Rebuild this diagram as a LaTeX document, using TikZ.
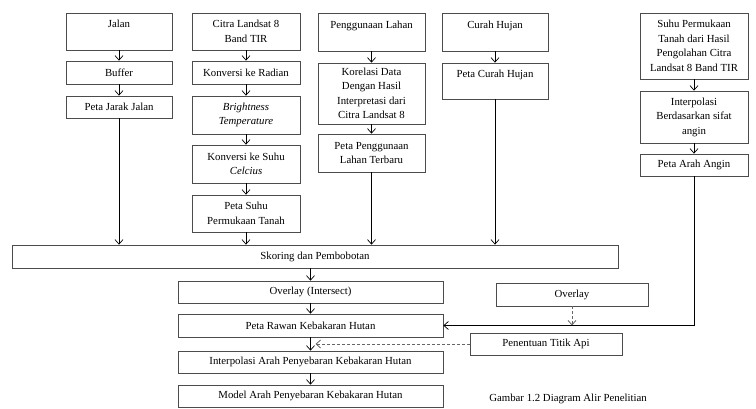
\documentclass[tikz,border=0pt]{standalone}
\usepackage{fontspec}
\setmainfont{Liberation Serif}
\usetikzlibrary{arrows.meta,calc}
\begin{document}
\begin{tikzpicture}[x=1pt,y=-1pt,
  box/.style={draw=black!70, line width=0.7pt, rectangle, inner sep=1pt, align=center,
    font=\fontsize{10.8}{14.5}\selectfont},
  w1/.style={minimum width=106pt},
  w2/.style={minimum width=108pt},
  w3/.style={minimum width=107pt},
  wb/.style={minimum width=265pt},
  wr/.style={minimum width=152pt},
  arr/.style={draw=black, line width=0.7pt, -{Straight Barb[length=4.5pt,width=8pt]}},
  darr/.style={draw=black!60, line width=0.8pt, dash pattern=on 3pt off 2pt, -{Straight Barb[length=4.5pt,width=8pt]}},
  captext/.style={font=\fontsize{10.8}{13}\selectfont}
]
\useasboundingbox (0,0) rectangle (756,409);
% column 1
\node[box,w1,minimum height=37pt] (jalan) at (119,31.5) {Jalan\\\mbox{}};
\node[box,w1,minimum height=23pt] (buffer) at (119,72.5) {Buffer};
\node[box,w1,minimum height=22pt] (jarak) at (119,107) {Peta Jarak Jalan};
% column 2
\node[box,w2,minimum height=37pt] (citra) at (246,31.5) {Citra Landsat 8\\Band TIR};
\node[box,w2,minimum height=23pt] (radian) at (246,72.5) {Konversi ke Radian};
\node[box,w2,minimum height=38pt] (bright) at (246,115) {\textit{Brightness}\\\textit{Temperature}};
\node[box,w2,minimum height=38pt] (celcius) at (246,164) {Konversi ke Suhu\\\textit{Celcius}};
\node[box,w2,minimum height=37pt] (suhu) at (246,213.5) {Peta Suhu\\Permukaan Tanah};
% column 3
\node[box,w3,minimum height=38pt] (guna) at (371.5,32) {Penggunaan Lahan\\\mbox{}};
\node[box,w3,minimum height=61pt] (korelasi) at (371.5,93.5) {Korelasi Data\\Dengan Hasil\\Interpretasi dari\\Citra Landsat 8};
\node[box,w3,minimum height=38pt] (gunabaru) at (371.5,153) {Peta Penggunaan\\Lahan Terbaru};
% column 4
\node[box,w1,minimum height=38pt] (curah) at (495,32) {Curah Hujan\\\mbox{}};
\node[box,w1,minimum height=36pt] (pcurah) at (495,81) {Peta Curah Hujan\\\mbox{}};
% column 5
\node[box,w2,minimum height=66pt] (lst) at (694,46) {Suhu Permukaan\\Tanah dari Hasil\\Pengolahan Citra\\Landsat 8 Band TIR};
\node[box,w2,minimum height=52pt] (interp) at (694,117) {Interpolasi\\Berdasarkan sifat\\angin};
\node[box,w2,minimum height=22pt] (angin) at (694,165) {Peta Arah Angin};
% bottom
\node[box,minimum width=606pt,minimum height=23pt] (skoring) at (315,256.5) {Skoring dan Pembobotan};
\node[box,wb,minimum height=22pt] (overlay1) at (310.5,292) {Overlay (Intersect)};
\node[box,wb,minimum height=23pt] (rawan) at (310.5,325.5) {Peta Rawan Kebakaran Hutan};
\node[box,wb,minimum height=22pt] (interp2) at (310.5,362) {Interpolasi Arah Penyebaran Kebakaran Hutan};
\node[box,wb,minimum height=22pt] (model) at (310.5,396) {Model Arah Penyebaran Kebakaran Hutan};
\node[box,wr,minimum height=23pt] (overlay2) at (572,294.5) {Overlay};
\node[box,wr,minimum height=22pt] (titik) at (546,344) {Penentuan Titik Api};
\node[captext] (caption) at (568,399) {Gambar 1.2 Diagram Alir Penelitian};
% connectors
\draw[arr] (jalan) -- (buffer);
\draw[arr] (buffer) -- (jarak);
\draw[arr] (jarak) -- (jarak.south |- skoring.north);
\draw[arr] (citra) -- (radian);
\draw[arr] (radian) -- (bright);
\draw[arr] (bright) -- (celcius);
\draw[arr] (celcius) -- (suhu);
\draw[arr] (suhu) -- (suhu.south |- skoring.north);
\draw[arr] (guna) -- (korelasi);
\draw[arr] (korelasi) -- (gunabaru);
\draw[arr] (gunabaru) -- (gunabaru.south |- skoring.north);
\draw[arr] (curah) -- (pcurah);
\draw[arr] (pcurah) -- (pcurah.south |- skoring.north);
\draw[arr] (lst) -- (interp);
\draw[arr] (interp) -- (angin);
\draw[arr] (angin.south) |- (rawan.east);
\draw[arr] (skoring.south -| overlay1.north) -- (overlay1);
\draw[arr] (overlay1) -- (rawan);
\draw[arr] (rawan) -- (interp2);
\draw[arr] (interp2) -- (model);
\draw[darr] (overlay2.south) -- (overlay2.south |- rawan.east);
\coordinate (mid) at ($(rawan.south)!0.5!(interp2.north)+(5,0)$);
\draw[darr] (titik.west) -- (titik.west -| mid);
\end{tikzpicture}
\end{document}
